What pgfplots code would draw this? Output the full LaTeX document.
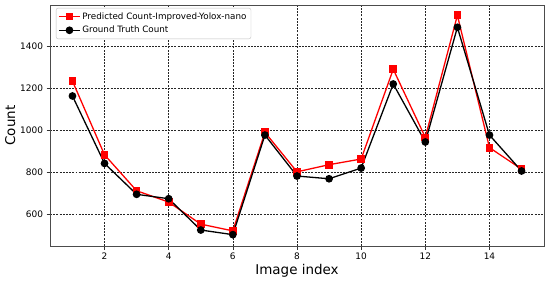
\documentclass[border=0pt]{standalone}
\usepackage{fontspec}
\setmainfont{DejaVu Sans}
\usepackage{pgfplots}
\pgfplotsset{compat=1.18}

\begin{document}
\begin{tikzpicture}
\begin{axis}[
  scale only axis,
  width=494bp, height=241bp,
  xmin=0.3, xmax=15.7,
  ymin=448, ymax=1595,
  xtick={2,4,...,14},
  ytick={600,800,...,1400},
  /pgf/number format/assume math mode=true,
  /pgf/number format/1000 sep={},
  ticklabel style={font=\fontsize{9}{10}\selectfont},
  tick align=outside,
  tick pos=left,
  major tick length=3.5bp,
  tick style={black!80, line width=0.6pt},
  axis line style={black!70, line width=0.7pt},
  grid=major,
  grid style={black!85, dash pattern=on 2pt off 1.2pt, line width=0.45pt},
  xlabel={Image index},
  ylabel={Count},
  label style={font=\fontsize{13.5}{15}\selectfont},
  xlabel style={yshift=2bp},
  ylabel style={yshift=-2bp},
  legend style={at={(0.012,0.988)}, anchor=north west,
    font=\fontsize{8.8}{10.5}\selectfont, draw=black!25, rounded corners=2pt,
    row sep=1.5pt, inner sep=2.5pt},
  legend cell align=left,
  legend image code/.code={\draw[mark repeat=2,mark phase=2,#1]
    plot coordinates {(0cm,0cm) (0.36cm,0cm) (0.72cm,0cm)};},
]
\addplot[red, line width=1.3pt, mark=square*, mark size=3.2pt]
  coordinates {
    (1,1233) (2,882) (3,711) (4,657) (5,552) (6,520) (7,989) (8,801)
    (9,835) (10,862) (11,1289) (12,965) (13,1546) (14,916) (15,814)
  };
\addlegendentry{Predicted Count-Improved-Yolox-nano}
\addplot[black, line width=1.3pt, mark=*, mark size=3.2pt]
  coordinates {
    (1,1162) (2,841) (3,694) (4,673) (5,524) (6,502) (7,976) (8,781)
    (9,768) (10,819) (11,1219) (12,943) (13,1489) (14,976) (15,805)
  };
\addlegendentry{Ground Truth Count}
\end{axis}
\path (current axis.south west) ++(-50bp,-35bp);
\path (current axis.north east) ++(6bp,5bp);
\end{tikzpicture}
\end{document}
